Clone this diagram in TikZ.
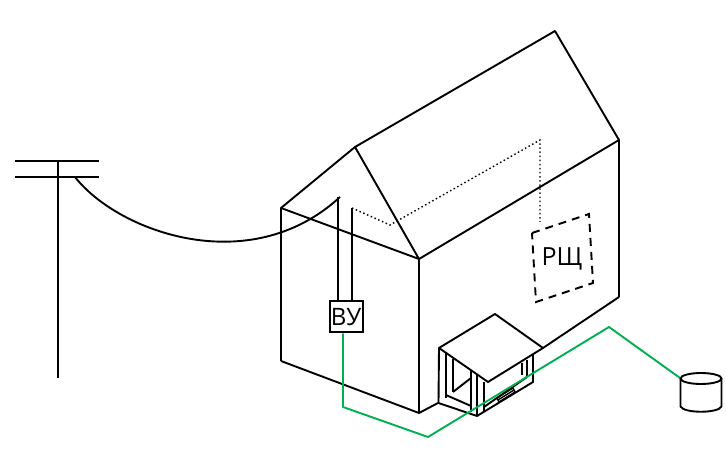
\documentclass[tikz,border=0pt]{standalone}
\usepackage{fontspec}
\setmainfont{Open Sans}
\usetikzlibrary{calc}
\definecolor{cablegreen}{RGB}{0,176,80}
\tikzset{
  line/.style={draw=black,line width=1.9pt,line join=round},
  thin line/.style={draw=black,line width=1.4pt},
  green line/.style={draw=cablegreen,line width=1.9pt,line join=round},
  dot line/.style={draw=black,line width=1.4pt,dash pattern=on 1.5pt off 2.6pt},
  dash line/.style={draw=black,line width=1.9pt,dash pattern=on 8pt off 6pt},
  labelbox/.style={draw=black,line width=2pt,fill=white,inner sep=0pt,minimum width=33pt,minimum height=31pt,font=\fontsize{24}{24}\selectfont},
  plainlabel/.style={inner sep=0pt,font=\fontsize{25}{25}\selectfont}
}
\begin{document}
\begin{tikzpicture}[x=1pt,y=-1pt]
\useasboundingbox (0,0) rectangle (726,470);
% pole
\coordinate (poleT) at (58,160);
\coordinate (poleB) at (58,378);
\draw[line] (poleT) -- (poleB);
\draw[thin line] (15,161) -- (99,161);
\draw[thin line] (15,177) -- (99,177);
% service wire
\coordinate (wireA) at (75,177);
\coordinate (wireB) at (340,197);
\draw[line] (wireA) .. controls (118,232) and (250,280) .. (wireB);
% house
\coordinate (eL) at (281,208);
\coordinate (apF) at (355,147);
\coordinate (eF) at (419,259);
\coordinate (apB) at (555,31);
\coordinate (eR) at (619,140);
\coordinate (bL) at (281,361);
\coordinate (bF) at (419,413);
\coordinate (bR) at (619,297);
\draw[line] (bL) -- (eL) -- (apF) -- (apB) -- (eR) -- (bR);
\draw[line] (eL) -- (eF) -- (apF);
\draw[line] (eF) -- (eR);
\draw[line] (eF) -- (bF);
\draw[line] (bL) -- (bF) -- (438,403);
\draw[line] (543,348) -- (bR);
% distribution box
\node[labelbox] (vu) at (346,317) {ВУ};
% wires to VU
\coordinate (w1) at (338,197);
\coordinate (w2) at (352,208);
\draw[line] (w1) -- (w1 |- vu.north);
\draw[line] (w2) -- (w2 |- vu.north);
% dotted route
\coordinate (d1) at (390,225);
\coordinate (d2) at (540,140);
\coordinate (d3) at (540,222);
\node[plainlabel] (rsh) at (562,259) {РЩ};
\draw[dot line] (w2) -- (d1) -- (d2) -- (d3);
\draw[dash line] (532,233) -- (589,214) -- (593,283) -- (536,302) -- cycle;
% porch
\draw[line] (439,348) -- (495,314) -- (543,348) -- (488,382) -- cycle;
\draw[line] (439,348) -- (438.5,403) -- (477,416) -- (533,382) -- (533,355);
\draw[line] (446,353) -- (446,398);
\draw[line] (453,359) -- (453,392);
\draw[line] (446,395) -- (471,406);
\draw[line] (453,392) -- (471,378);
\draw[line] (471,370) -- (471,412);
\draw[line] (477,375) -- (477,416);
\draw[line] (484,382) -- (484,412);
\draw[line] (484,407) -- (527,377);
\draw[line] (527,360) -- (527,377);
\draw[line] (522,363) -- (522,375);
% green cable
\coordinate (g1) at (343,407);
\coordinate (g2) at (428,437);
\coordinate (g3) at (609,327);
\coordinate (tank) at (680,378);
\draw[green line] (vu.south -| 343,0) -- (g1) -- (g2) -- (g3) -- (tank);
% porch step
\draw[thin line] (497,398) -- (513,388) -- (515,392) -- (499,402) -- cycle;
\draw[thin line] (498,400) -- (514,390);
% tank
\coordinate (tc) at (701,378.5);
\draw[line] (tc) ellipse [x radius=20.5, y radius=5.5];
\draw[line] (680.5,378.5) -- (680.5,406.5) .. controls (684,413.5) and (718,413.5) .. (721.5,406.5) -- (721.5,378.5);
\end{tikzpicture}
\end{document}
